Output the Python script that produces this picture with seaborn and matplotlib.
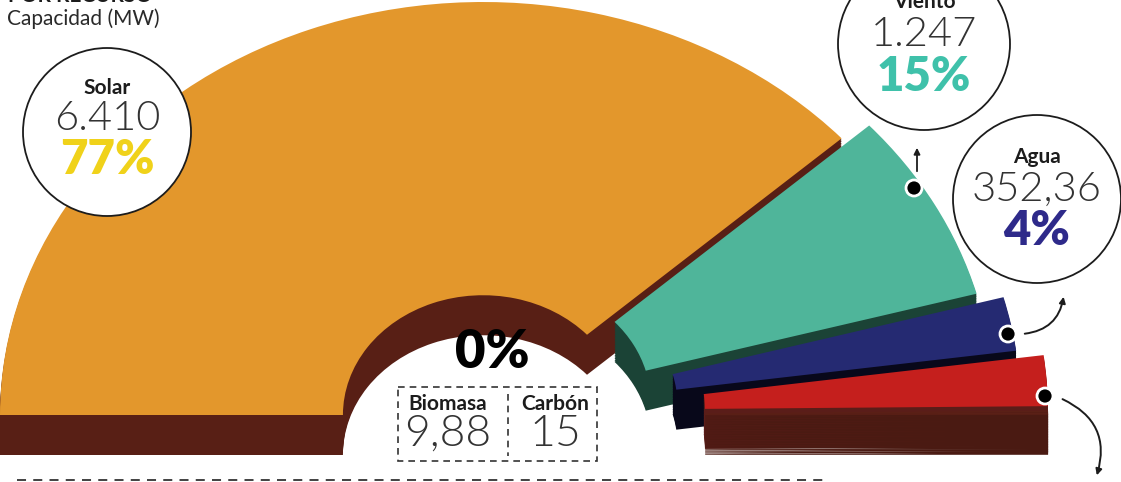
import matplotlib
matplotlib.use("Agg")
import matplotlib.pyplot as plt
import seaborn as sns
from matplotlib.patches import Circle, Rectangle

# ---------------- data ----------------
recursos = ["Solar", "Viento", "Agua", "Otra", "Biomasa", "Carbón"]
capacidad_mw = [6410, 1247, 352.36, 330, 9.88, 15]
valor_txt = ["6.410", "1.247", "352,36", "", "9,88", "15"]
pct_txt = ["77%", "15%", "4%", "", "0%", "0%"]

# ---------------- style ----------------
face_colors = ["#e3972c", "#4fb59a", "#252a72", "#c51f1d", "#5a2016", "#5a2016"]
side_colors = ["#581f15", "#1b4336", "#08081a", "#5a1d19", "#4a1a12", "#4a1a12"]
explode = [0.0, 0.065, 0.115, 0.17, 0.17, 0.17]
pct_colors = {"Solar": "#f0d21a", "Viento": "#3fc1aa", "Agua": "#2e2a8a"}

sns.set_theme(style="white")
plt.rcParams["font.family"] = ["Lato", "DejaVu Sans"]

W, H = 1121, 482
fig = plt.figure(figsize=(W / 100, H / 100), dpi=100)
fig.patch.set_facecolor("white")
ax = fig.add_axes([0, 0, 1, 1])

cx, cy = 483, 415      # pixel position of the pie centre
rx, ry = 483, 413      # pixels per unit radius (elliptical perspective)
depth = 40 / ry
total = sum(capacidad_mw)
vals = capacidad_mw + [total]          # invisible lower half
hidden = (0, 0, 0, 0)

common = dict(startangle=180, counterclock=False, radius=1.0,
              wedgeprops=dict(width=0.71, linewidth=0))
# extruded side (sweep of the ring downwards)
n_steps = 24
for k in range(n_steps, 0, -1):
    off = depth * k / n_steps
    ax.pie(vals, colors=side_colors + [hidden], explode=explode + [0],
           center=(0, -off), **common)
# top face
ax.pie(vals, colors=face_colors + [hidden], explode=explode + [0],
       center=(0, 0), **common)
ax.set_aspect("auto")
ax.set_xlim(-cx / rx, (W - cx) / rx)
ax.set_ylim(-(H - cy) / ry, cy / ry)
ax.axis("off")

# ---------------- overlay in pixel coordinates ----------------
ov = fig.add_axes([0, 0, 1, 1], facecolor="none")
ov.set_xlim(0, W)
ov.set_ylim(H, 0)
ov.axis("off")

ink = "#1c1c1c"
light = 300

# title (cut at top)
ov.text(8, 6, "POR RECURSO", fontsize=15, fontweight="bold", color=ink,
        ha="left", va="bottom")
ov.text(7, 19, "Capacidad (MW)", fontsize=15, color="#2a2a2a",
        ha="left", va="center")

# bubbles
bubbles = {
    "Solar": dict(c=(107, 132), r=84, ys=(88, 119, 160)),
    "Viento": dict(c=(924, 44), r=86, ys=(2, 35, 77)),
    "Agua": dict(c=(1037, 199), r=84, ys=(157, 189, 231)),
}
for name, b in bubbles.items():
    i = recursos.index(name)
    x, y = b["c"]
    ov.add_patch(Circle((x, y), b["r"], fc="white", ec=ink, lw=1.3, zorder=3))
    y1, y2, y3 = b["ys"]
    ov.text(x, y1, recursos[i], fontsize=15, fontweight="bold", color=ink,
            ha="center", va="center", zorder=4)
    ov.text(x, y2, valor_txt[i], fontsize=30, fontweight=light, color="#333333",
            ha="center", va="center", zorder=4)
    ov.text(x, y3, pct_txt[i], fontsize=34, fontweight="heavy",
            color=pct_colors[name], ha="center", va="center", zorder=4)

# dots + arrows
for (x, y) in [(914, 188), (1008, 334), (1045, 396)]:
    ov.add_patch(Circle((x, y), 8, fc="black", ec="white", lw=2, zorder=5))
ov.annotate("", xy=(917, 145), xytext=(917, 174),
            arrowprops=dict(arrowstyle="-|>", color=ink, lw=1.3, mutation_scale=9))
ov.annotate("", xy=(1064, 294), xytext=(1022, 334),
            arrowprops=dict(arrowstyle="-|>", color=ink, lw=1.4, mutation_scale=9,
                            connectionstyle="arc3,rad=0.4"))
ov.annotate("", xy=(1096, 478), xytext=(1060, 398),
            arrowprops=dict(arrowstyle="-|>", color=ink, lw=1.4, mutation_scale=9,
                            connectionstyle="arc3,rad=-0.45"))

# 0% and small resources box
ib, ic = recursos.index("Biomasa"), recursos.index("Carbón")
ov.text(492, 353, pct_txt[ib], fontsize=38, fontweight="heavy", color="black",
        ha="center", va="center")
ov.add_patch(Rectangle((398, 387), 199, 74, fill=False, ec="#333333", lw=1.2,
                       ls=(0, (4, 3))))
ov.plot([508, 508], [394, 456], color="#333333", lw=1.2, ls=(0, (4, 3)))
for xi, i in [(448, ib), (555, ic)]:
    ov.text(xi, 404, recursos[i], fontsize=15, fontweight="bold", color=ink,
            ha="center", va="center")
    ov.text(xi, 434, valor_txt[i], fontsize=32, fontweight=light, color="#333333",
            ha="center", va="center")

# bottom dashed rule
ov.plot([17, 825], [480, 480], color="#333333", lw=1.3, ls=(0, (5, 4)))

fig.savefig("out.png", dpi=100, facecolor="white")
